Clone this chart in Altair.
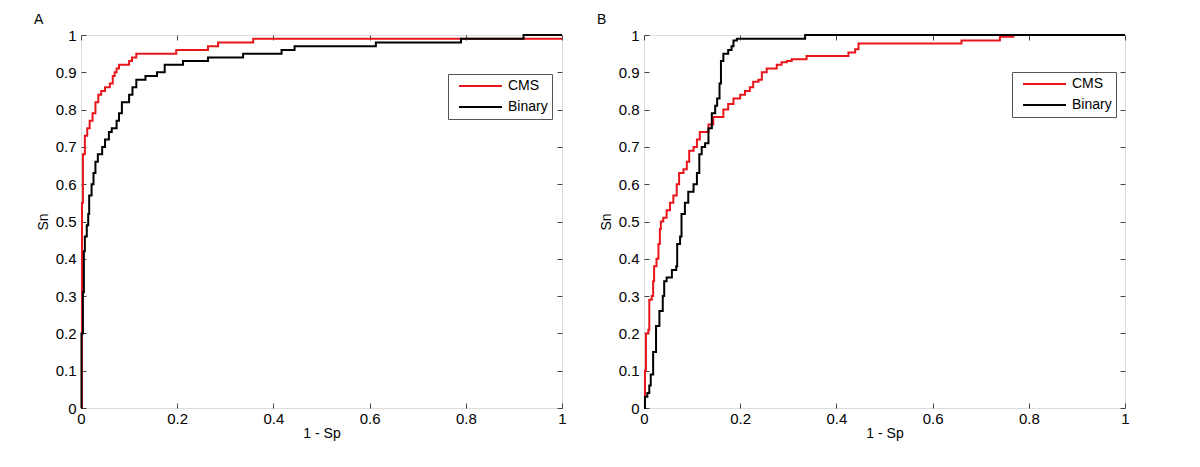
import altair as alt
import pandas as pd

# ---------------- data ----------------
series_names = ["CMS", "Binary"]
series_colors = ["#e8151b", "#000000"]

x_ticks = [0, 0.2, 0.4, 0.6, 0.8, 1]
y_ticks = [0, 0.1, 0.2, 0.3, 0.4, 0.5, 0.6, 0.7, 0.8, 0.9, 1]

a_cms_x = [0, 0.002, 0.004, 0.008, 0.013, 0.018, 0.024, 0.03, 0.036, 0.042, 0.05, 0.06,
           0.066, 0.07, 0.074, 0.079, 0.1, 0.106, 0.115, 0.198, 0.264, 0.285, 0.358, 1.0]
a_cms_y = [0, 0.55, 0.68, 0.73, 0.75, 0.77, 0.79, 0.82, 0.84, 0.85, 0.86, 0.87,
           0.89, 0.9, 0.91, 0.92, 0.93, 0.94, 0.95, 0.96, 0.97, 0.98, 0.99, 0.99]

a_bin_x = [0, 0.001, 0.004, 0.006, 0.008, 0.012, 0.015, 0.017, 0.022, 0.026, 0.03, 0.035,
           0.044, 0.05, 0.058, 0.064, 0.074, 0.079, 0.085, 0.1, 0.107, 0.115, 0.134, 0.158,
           0.174, 0.212, 0.264, 0.337, 0.417, 0.444, 0.613, 0.79, 0.92, 1.0]
a_bin_y = [0, 0.2, 0.31, 0.42, 0.46, 0.49, 0.52, 0.57, 0.6, 0.63, 0.66, 0.68,
           0.7, 0.72, 0.74, 0.75, 0.77, 0.79, 0.82, 0.84, 0.86, 0.88, 0.89, 0.9,
           0.92, 0.93, 0.94, 0.95, 0.96, 0.97, 0.98, 0.99, 1.0, 1.0]

b_cms_x = [0, 0.002, 0.004, 0.009, 0.011, 0.016, 0.019, 0.021, 0.026, 0.03, 0.033, 0.035,
           0.04, 0.047, 0.054, 0.061, 0.068, 0.073, 0.082, 0.089, 0.094, 0.103, 0.11, 0.116,
           0.134, 0.144, 0.165, 0.175, 0.186, 0.2, 0.21, 0.22, 0.227, 0.238, 0.245, 0.255,
           0.276, 0.286, 0.297, 0.307, 0.338, 0.425, 0.439, 0.446, 0.66, 0.74, 0.768, 1.0]
b_cms_y = [0, 0.1, 0.2, 0.21, 0.29, 0.3, 0.34, 0.38, 0.4, 0.44, 0.48, 0.5,
           0.51, 0.53, 0.55, 0.57, 0.6, 0.63, 0.64, 0.66, 0.69, 0.7, 0.72, 0.74,
           0.76, 0.78, 0.8, 0.815, 0.83, 0.84, 0.85, 0.86, 0.875, 0.88, 0.9, 0.91,
           0.92, 0.927, 0.93, 0.935, 0.944, 0.953, 0.962, 0.977, 0.985, 0.995, 1.0, 1.0]

b_bin_x = [0, 0.002, 0.007, 0.011, 0.014, 0.019, 0.025, 0.032, 0.039, 0.042, 0.047, 0.058,
           0.067, 0.069, 0.075, 0.078, 0.085, 0.092, 0.103, 0.11, 0.115, 0.12, 0.127, 0.134,
           0.141, 0.148, 0.152, 0.157, 0.16, 0.165, 0.175, 0.182, 0.186, 0.193, 0.335, 1.0]
b_bin_y = [0, 0.03, 0.04, 0.06, 0.09, 0.15, 0.22, 0.26, 0.3, 0.34, 0.35, 0.37,
           0.38, 0.44, 0.46, 0.52, 0.55, 0.58, 0.6, 0.63, 0.68, 0.7, 0.71, 0.75,
           0.79, 0.81, 0.83, 0.87, 0.93, 0.95, 0.96, 0.97, 0.985, 0.99, 1.0, 1.0]

panel_labels = ["A", "B"]

# ---------------- chart ----------------
FONT = "Liberation Sans"
W, H = 481, 373


def make_df(cx, cy, bx, by):
    d1 = pd.DataFrame({"fpr": cx, "tpr": cy, "series": series_names[0], "ord": range(len(cx))})
    d2 = pd.DataFrame({"fpr": bx, "tpr": by, "series": series_names[1], "ord": range(len(bx))})
    return pd.concat([d1, d2], ignore_index=True)


def panel(df, label, legend_x, legend_y):
    def xscale():
        return alt.Scale(domain=[0, 1], nice=False, zero=False)

    def yscale():
        return alt.Scale(domain=[0, 1], nice=False, zero=False)

    color = alt.Color(
        "series:N",
        scale=alt.Scale(domain=series_names, range=series_colors),
        legend=alt.Legend(
            title=None, orient="none", legendX=legend_x, legendY=legend_y,
            symbolType="stroke", symbolSize=1849, symbolStrokeWidth=2,
            clipHeight=16, rowPadding=5, padding=4, symbolOffset=6, labelOffset=5,
            labelFont=FONT, labelFontSize=14, labelColor="#000",
            strokeColor="#555", fillColor="#ffffff",
        ),
    )
    main_x = alt.X("fpr:Q", scale=xscale(), axis=alt.Axis(
        orient="bottom", values=x_ticks, format="~g", title="1 - Sp", ticks=False, tickSize=0,
        domain=False, grid=False, labelPadding=3, labelFont=FONT, labelFontSize=15,
        labelColor="#000", titleFont=FONT, titleFontSize=14, titleFontWeight="normal",
        titleColor="#000", titlePadding=0, labelFlush=False))
    main_y = alt.Y("tpr:Q", scale=yscale(), axis=alt.Axis(
        orient="left", values=y_ticks, format="~g", title="Sn", ticks=False, tickSize=0,
        domain=False, grid=False, labelPadding=5, labelFont=FONT, labelFontSize=15,
        labelColor="#000", titleFont=FONT, titleFontSize=14, titleFontWeight="normal",
        titleColor="#000", titlePadding=5, labelFlush=False))

    base = alt.Chart(df)
    lines = []
    for s in series_names:
        lines.append(
            base.transform_filter(alt.datum.series == s)
            .mark_line(interpolate="step-after", strokeWidth=2)
            .encode(x=main_x, y=main_y, color=color, order="ord:Q")
        )
    data_layer = alt.layer(*lines)

    def tick_axis(orient, offset, values):
        return alt.Axis(orient=orient, offset=offset, values=values, labels=False, domain=False,
                        grid=False, ticks=True, tickSize=5, tickColor="#444", title=None)

    t1 = base.mark_line(opacity=0).encode(
        x=alt.X("fpr:Q", scale=xscale(), axis=tick_axis("top", -H, x_ticks)),
        y=alt.Y("tpr:Q", scale=yscale(), axis=tick_axis("right", -W, y_ticks)),
    )
    t2 = base.mark_line(opacity=0).encode(
        x=alt.X("fpr:Q", scale=xscale(), axis=tick_axis("bottom", -H, x_ticks)),
        y=alt.Y("tpr:Q", scale=yscale(), axis=tick_axis("left", -W, y_ticks)),
    )
    lab = alt.Chart(pd.DataFrame({"t": [label]})).mark_text(
        font=FONT, fontSize=14, align="left", baseline="middle", color="#000"
    ).encode(text="t:N", x=alt.value(-47), y=alt.value(-15))

    return alt.layer(data_layer, t1, t2, lab).resolve_scale(
        x="independent", y="independent"
    ).resolve_axis(x="independent", y="independent").properties(width=W, height=H)


dfa = make_df(a_cms_x, a_cms_y, a_bin_x, a_bin_y)
dfb = make_df(b_cms_x, b_cms_y, b_bin_x, b_bin_y)

chart = alt.hconcat(
    panel(dfa, panel_labels[0], 367, 39),
    panel(dfb, panel_labels[1], 368, 37),
    spacing=29,
).resolve_scale(color="independent").resolve_legend(color="independent").properties(
    padding={"left": 25, "top": 4, "right": 5, "bottom": 5}
).configure_view(stroke="#444", strokeWidth=1).configure(background="white")

chart.save("out.html", embed_options={"renderer": "svg", "actions": False})
